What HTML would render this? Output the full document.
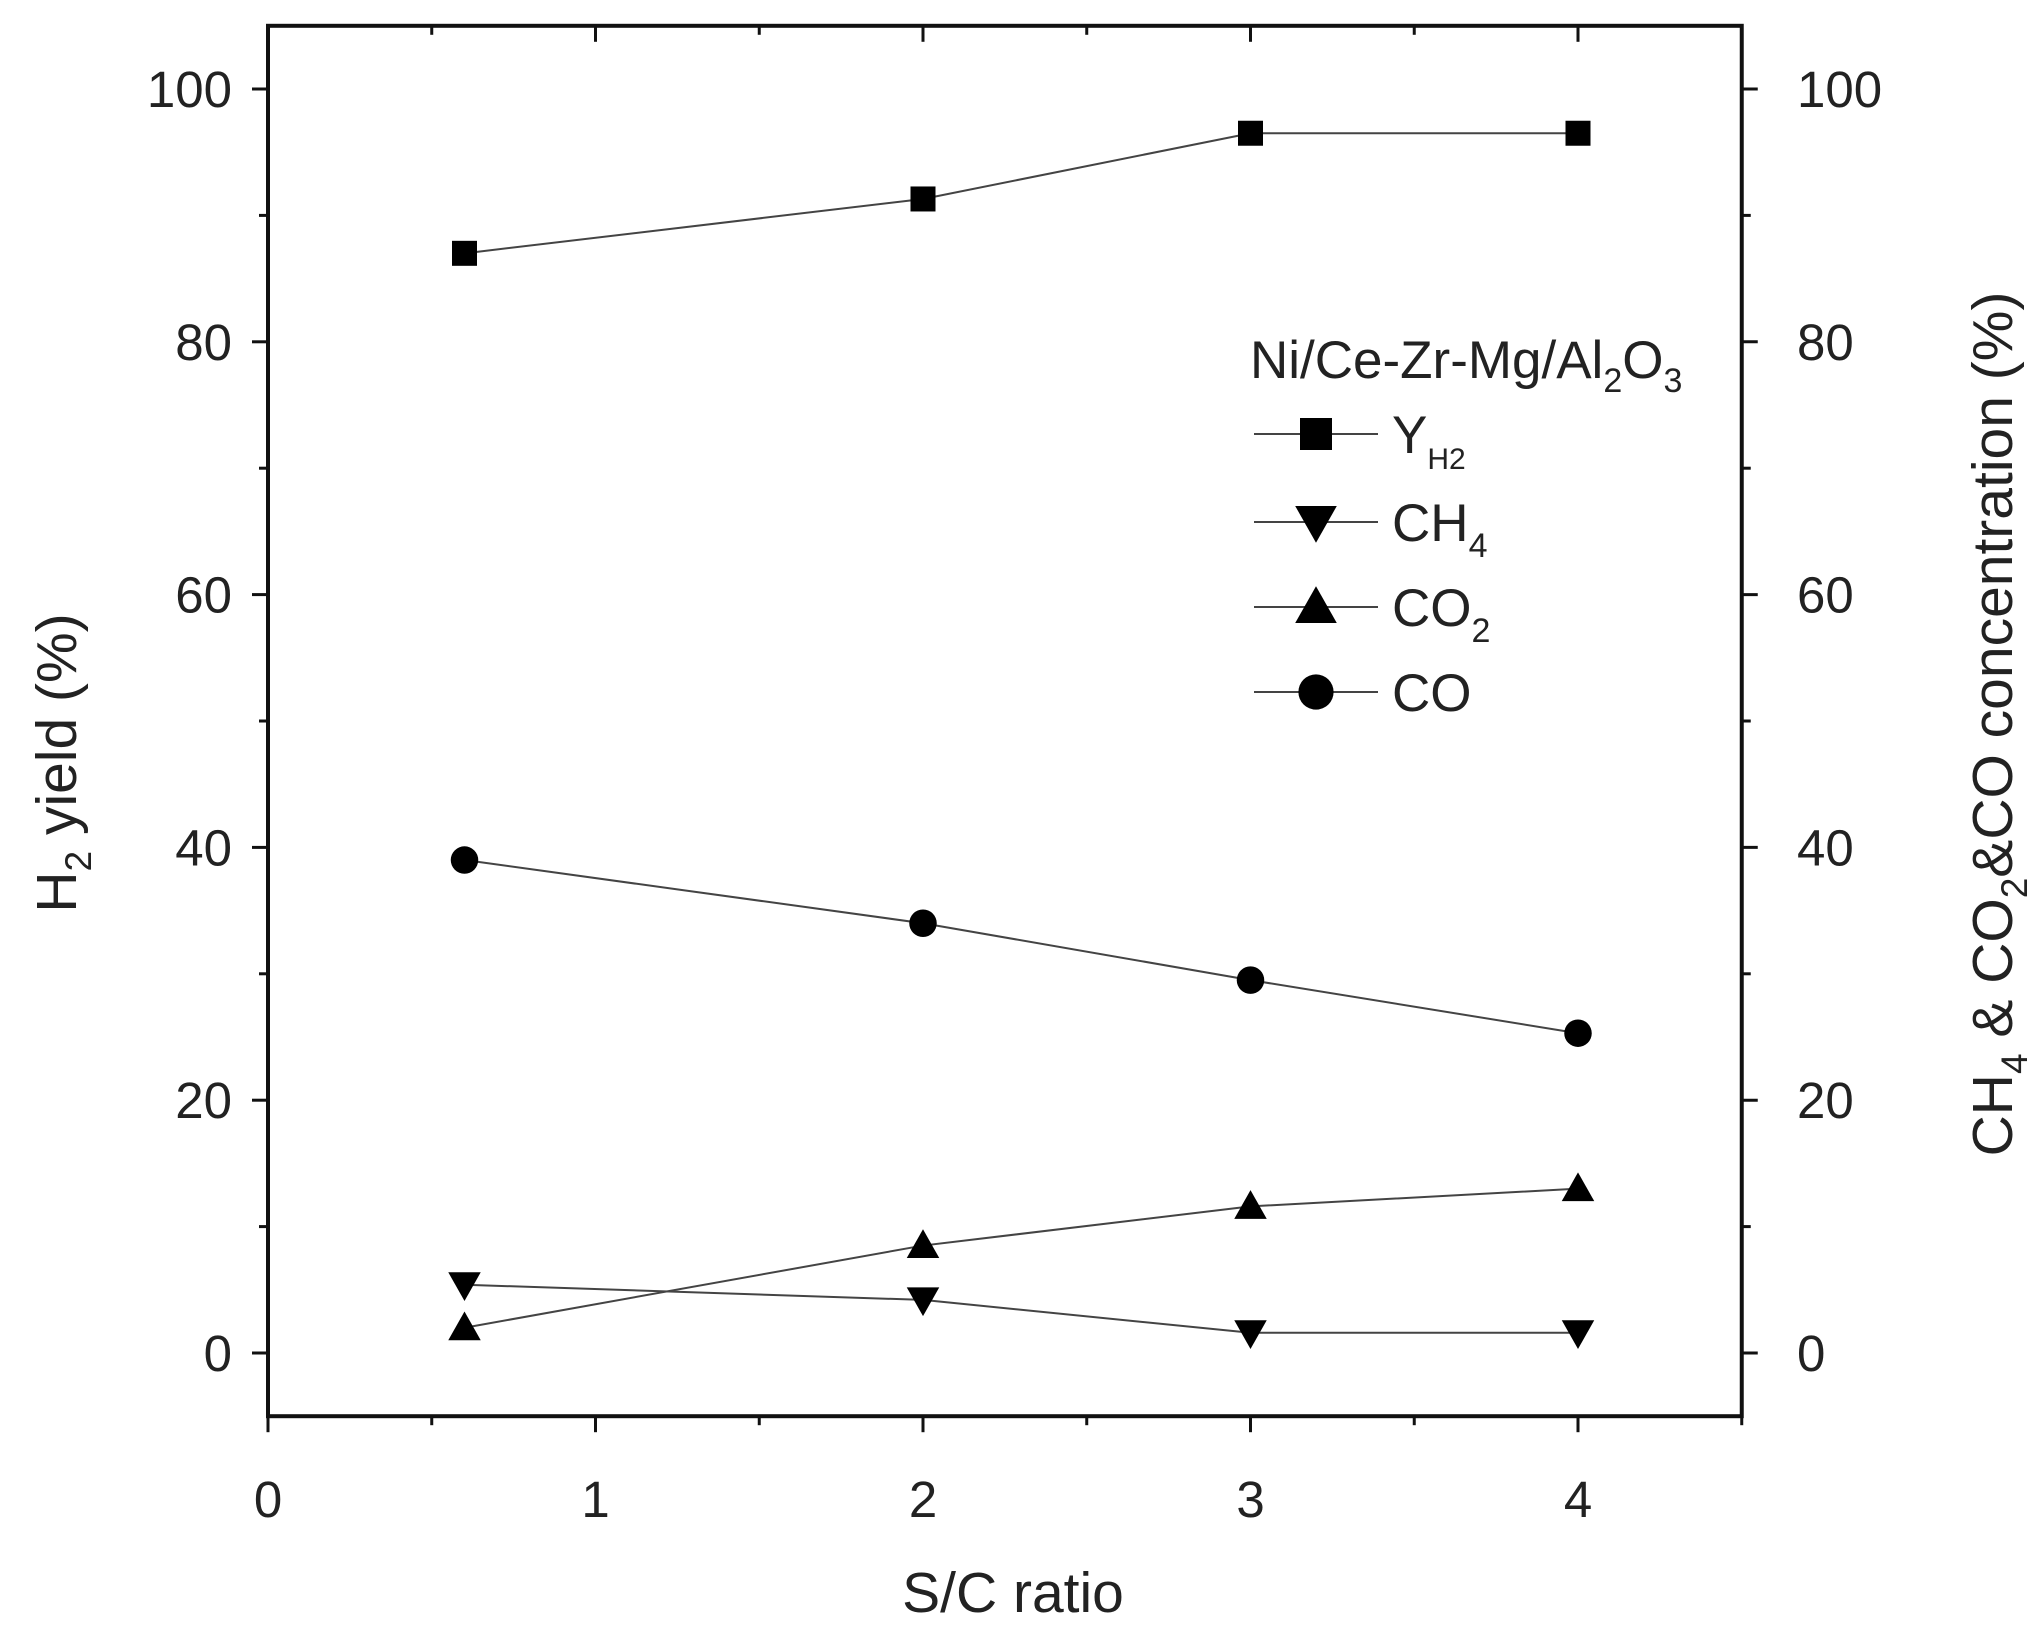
<!DOCTYPE html>
<html><head><meta charset="utf-8"><style>
html,body{margin:0;padding:0;background:#fff}
svg{display:block}
text{font-family:"Liberation Sans",sans-serif;fill:#222}
</style></head><body>
<svg id="chart" width="2043" height="1626" viewBox="0 0 2043 1626" xmlns="http://www.w3.org/2000/svg">
<g id="axes"></g>
<g id="series"></g>
<g id="legend">
  <text x="1250" y="378" font-size="53">Ni/Ce-Zr-Mg/Al<tspan font-size="34" dy="14">2</tspan><tspan dy="-14">O</tspan><tspan font-size="34" dy="14">3</tspan></text>
</g>
<text x="1013" y="1612" font-size="57" text-anchor="middle">S/C ratio</text>
<text transform="translate(76,763) rotate(-90)" font-size="57" text-anchor="middle">H<tspan font-size="37" dy="15">2</tspan><tspan dy="-15"> yield (%)</tspan></text>
<text transform="translate(2012,724) rotate(-90)" font-size="57" text-anchor="middle">CH<tspan font-size="37" dy="15">4</tspan><tspan dy="-15"> &amp; CO</tspan><tspan font-size="37" dy="15">2</tspan><tspan dy="-15">&amp;CO concentration (%)</tspan></text>
</svg>
<script>
const categories = [0.6, 2, 3, 4];
const yieldH2 = [87, 91.3, 96.5, 96.5];
const coConc = [39, 34, 29.5, 25.3];
const co2Conc = [2, 8.5, 11.6, 13];
const ch4Conc = [5.4, 4.2, 1.6, 1.6];
const xTicks = ["0","1","2","3","4"];
const yTicks = ["0","20","40","60","80","100"];

const NS="http://www.w3.org/2000/svg";
const X0=268,XS=327.5,Y0=1353,YS=12.64;
function xs(v){return X0+v*XS;}
function ys(v){return Y0-v*YS;}
const L=xs(0),R=xs(4.5),T=ys(105),B=ys(-5);
function mk(tag,attrs,parent){const e=document.createElementNS(NS,tag);for(const k in attrs)e.setAttribute(k,attrs[k]);parent.appendChild(e);return e;}
const axes=document.getElementById('axes');
const frame=mk('rect',{x:L,y:T,width:R-L,height:B-T,fill:'none',stroke:'#111','stroke-width':4},axes);


for(let v=0;v<=4.5001;v+=0.5){
  const major=Math.abs(v-Math.round(v))<1e-6;
  const len=major?16:9;
  const t=mk('line',{x1:xs(v),x2:xs(v),y1:B,y2:B+len,stroke:'#111','stroke-width':3},axes);
  
  
  const t2=mk('line',{x1:xs(v),x2:xs(v),y1:T,y2:T+len,stroke:'#111','stroke-width':3},axes);
  
  
}
xTicks.forEach((s,i)=>{
  const t=mk('text',{x:xs(+s),y:1517,'font-size':51,'text-anchor':'middle'},axes);
  t.textContent=s;
  
  
});
for(let v=0;v<=100;v+=10){
  const major=v%20===0;
  const len=major?16:9;
  const a=mk('line',{x1:L-len,x2:L,y1:ys(v),y2:ys(v),stroke:'#111','stroke-width':3},axes);
  
  
  const b=mk('line',{x1:R,x2:R+len,y1:ys(v),y2:ys(v),stroke:'#111','stroke-width':3},axes);
  
  
}
yTicks.forEach(s=>{
  const a=mk('text',{x:232,y:ys(+s)+18,'font-size':51,'text-anchor':'end'},axes);
  a.textContent=s;
  
  
  const b=mk('text',{x:1797,y:ys(+s)+18,'font-size':51},axes);
  b.textContent=s;
  
  
});
function marker(type,cx,cy,parent,s){
  let e;
  if(type==='square') e=mk('rect',{x:cx-s,y:cy-s,width:2*s,height:2*s,fill:'#000'},parent);
  else if(type==='circle') e=mk('circle',{cx:cx,cy:cy,r:s*1.1,fill:'#000'},parent);
  else if(type==='up') e=mk('polygon',{points:`${cx-s*1.3},${cy+s} ${cx+s*1.3},${cy+s} ${cx},${cy-s*1.3}`,fill:'#000'},parent);
  else e=mk('polygon',{points:`${cx-s*1.3},${cy-s} ${cx+s*1.3},${cy-s} ${cx},${cy+s*1.3}`,fill:'#000'},parent);
  return e;
}
const seriesDefs=[
  {name:'yh2',vals:yieldH2,m:'square'},
  {name:'co',vals:coConc,m:'circle'},
  {name:'co2',vals:co2Conc,m:'up'},
  {name:'ch4',vals:ch4Conc,m:'down'}
];
const sg=document.getElementById('series');
seriesDefs.forEach(s=>{
  const g=mk('g',{},sg);
  
  
  const pts=categories.map((c,i)=>xs(c)+','+ys(s.vals[i])).join(' ');
  const pl=mk('polyline',{points:pts,fill:'none',stroke:'#444','stroke-width':2},g);
  
  
  categories.forEach((c,i)=>{
    const m=marker(s.m,xs(c),ys(s.vals[i]),g,12.5);
    
    
  });
});
const lg=document.getElementById('legend');
const entries=[
  {m:'square',y:434,main:'Y',sub:'H2',subSize:30},
  {m:'down',y:522,main:'CH',sub:'4',subSize:34},
  {m:'up',y:607,main:'CO',sub:'2',subSize:34},
  {m:'circle',y:692,main:'CO',sub:'',subSize:34}
];
entries.forEach(en=>{
  const g=mk('g',{},lg);
  
  
  mk('line',{x1:1254,x2:1378,y1:en.y,y2:en.y,stroke:'#444','stroke-width':2},g);
  marker(en.m,1316,en.y,g,16);
  const t=mk('text',{x:1392,y:en.y+19,'font-size':53},g);
  t.textContent=en.main;
  if(en.sub){const ts=mk('tspan',{'font-size':en.subSize,dy:16},t);ts.textContent=en.sub;}
});
</script>
</body></html>
